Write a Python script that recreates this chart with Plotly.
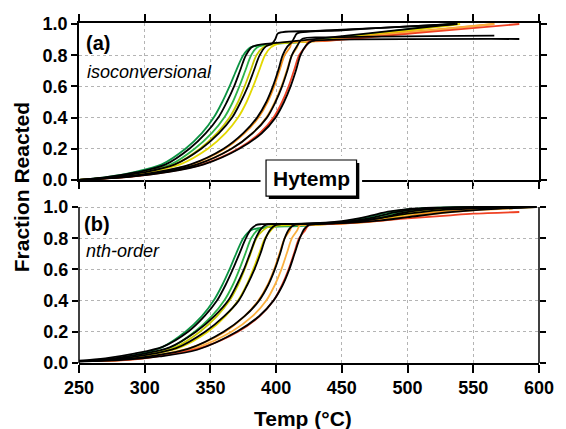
import plotly.graph_objects as go

# ---- experimental conversion curves (shared rising part) ----
RISE_ALPHA = [0.0, 0.02, 0.05, 0.10, 0.20, 0.30, 0.40, 0.50, 0.60, 0.70, 0.80, 0.85]

rise_T = {
    "greenA":  [250, 272, 292, 313, 331, 343.5, 352.5, 359, 364.5, 369.5, 375, 380.5],
    "greenB":  [250, 276, 298, 320, 338, 351, 360.5, 367, 372, 376.5, 381, 385.5],
    "yellowA": [250, 278, 300, 323, 342, 355, 364.5, 371, 376, 380.5, 385, 390],
    "yellowB": [250, 280, 303, 327, 348, 361.5, 371, 377.5, 382.5, 387, 391.5, 396],
    "orangeA": [250, 284, 310, 336, 361, 376, 386.5, 393.5, 398.5, 402.5, 406.5, 410.5],
    "orangeB": [250, 286, 313, 340, 366, 382, 392.5, 399, 404, 408, 412, 416],
    "red":     [250, 288, 316, 344, 371, 387.5, 398, 404.5, 409.5, 413.5, 417.5, 422],
}

colors = {
    "greenA": "#0c9444", "greenB": "#2db34a", "yellowA": "#c9c900",
    "yellowB": "#e3d800", "orangeA": "#f7941d", "orangeB": "#fbb040",
    "red": "#ef4123",
}

# upper (second-stage) part of each experimental curve, panel (a)
tail_a = {
    "greenA":  ([395, 420, 470, 533], [0.870, 0.885, 0.935, 1.0]),
    "greenB":  ([397, 420, 470, 535], [0.872, 0.885, 0.932, 1.0]),
    "yellowA": ([400, 425, 475, 538], [0.875, 0.888, 0.935, 1.0]),
    "yellowB": ([403, 425, 475, 540], [0.877, 0.887, 0.932, 1.0]),
    "orangeA": ([412, 430, 490, 566], [0.880, 0.890, 0.940, 1.0]),
    "orangeB": ([417, 435, 490, 566], [0.882, 0.890, 0.935, 1.0]),
    "red":     ([425, 440, 510, 585], [0.887, 0.893, 0.945, 1.0]),
}

# upper part of each experimental curve, panel (b)
tail_b = {
    "greenA":  ([390, 420, 450, 470, 485, 500, 520, 560, 597],
                [0.868, 0.880, 0.905, 0.935, 0.965, 0.985, 0.995, 1.0, 1.0]),
    "greenB":  ([392, 420, 450, 475, 490, 505, 525, 560, 597],
                [0.870, 0.882, 0.900, 0.930, 0.960, 0.980, 0.993, 0.999, 1.0]),
    "yellowA": ([395, 425, 455, 480, 500, 520, 550, 597],
                [0.875, 0.885, 0.900, 0.930, 0.965, 0.985, 0.995, 1.0]),
    "yellowB": ([400, 425, 455, 480, 505, 530, 560, 597],
                [0.880, 0.887, 0.900, 0.925, 0.960, 0.982, 0.995, 1.0]),
    "orangeA": ([412, 430, 460, 490, 515, 540, 570, 597],
                [0.880, 0.888, 0.900, 0.930, 0.960, 0.980, 0.993, 1.0]),
    "orangeB": ([418, 435, 465, 495, 520, 550, 580],
                [0.882, 0.889, 0.900, 0.928, 0.955, 0.978, 0.990]),
    "red":     ([425, 440, 470, 500, 530, 550, 585],
                [0.885, 0.890, 0.905, 0.927, 0.945, 0.957, 0.968]),
}

# ---- isoconversional model curves, panel (a) ----
iso_fits = [
    ([250, 272, 294, 316, 334, 346.5, 356, 362.5, 368, 372.5, 377, 382, 392, 420, 470, 536],
     [0.0, 0.02, 0.05, 0.10, 0.20, 0.30, 0.40, 0.50, 0.60, 0.70, 0.80, 0.855, 0.872, 0.895, 0.94, 1.0]),
    ([250, 276, 300, 323, 343, 356.5, 366.5, 373, 378.5, 383, 387.5, 392, 397, 399.5, 401.5, 430, 480, 536],
     [0.0, 0.02, 0.05, 0.10, 0.20, 0.30, 0.40, 0.50, 0.60, 0.70, 0.80, 0.855, 0.875, 0.905, 0.94, 0.955, 0.975, 1.0]),
    ([250, 283, 309, 335, 360, 375, 385.5, 392.5, 397.5, 401.5, 405, 408.5, 412, 414, 416, 450, 490, 538],
     [0.0, 0.02, 0.05, 0.10, 0.20, 0.30, 0.40, 0.50, 0.60, 0.70, 0.80, 0.855, 0.885, 0.915, 0.94, 0.96, 0.98, 1.0]),
    ([250, 286, 313, 340, 366, 382, 393, 399.5, 404.5, 408.5, 412, 416, 420, 440, 566],
     [0.0, 0.02, 0.05, 0.10, 0.20, 0.30, 0.40, 0.50, 0.60, 0.70, 0.80, 0.86, 0.905, 0.914, 0.925]),
    ([250, 288, 317, 345, 372, 389, 399.5, 406, 411, 415, 418.5, 422.5, 427, 440, 585],
     [0.0, 0.02, 0.05, 0.10, 0.20, 0.30, 0.40, 0.50, 0.60, 0.70, 0.80, 0.86, 0.89, 0.898, 0.904]),
]

# ---- nth-order model curves, panel (b) ----
nth_fits = [
    ([250, 270, 292, 314, 333, 345.5, 355, 361.5, 367, 372, 377, 381, 385, 389, 420, 450, 470, 485, 500, 520, 560, 598],
     [0.015, 0.03, 0.06, 0.105, 0.20, 0.30, 0.40, 0.50, 0.60, 0.70, 0.80, 0.86, 0.885, 0.89, 0.893, 0.91, 0.94, 0.97, 0.987, 0.996, 1.0, 1.0]),
    ([250, 273, 296, 319, 339, 353, 363.5, 370, 375.5, 380, 384.5, 388.5, 392, 396, 425, 455, 475, 490, 505, 525, 560, 598],
     [0.012, 0.027, 0.055, 0.10, 0.20, 0.30, 0.40, 0.50, 0.60, 0.70, 0.80, 0.86, 0.885, 0.89, 0.893, 0.908, 0.935, 0.965, 0.985, 0.995, 1.0, 1.0]),
    ([250, 276, 300, 324, 346, 360.5, 371.5, 378, 383.5, 388, 392, 396, 400, 404, 430, 460, 480, 495, 510, 530, 565, 598],
     [0.010, 0.024, 0.05, 0.095, 0.20, 0.30, 0.40, 0.50, 0.60, 0.70, 0.80, 0.86, 0.885, 0.89, 0.893, 0.905, 0.93, 0.96, 0.98, 0.993, 1.0, 1.0]),
    ([250, 280, 306, 333, 360, 376, 387, 394, 399, 403, 406.5, 410, 414, 418, 450, 475, 500, 525, 550, 598],
     [0.010, 0.022, 0.045, 0.09, 0.20, 0.30, 0.40, 0.50, 0.60, 0.70, 0.80, 0.86, 0.885, 0.89, 0.90, 0.925, 0.957, 0.98, 0.99, 1.0]),
    ([250, 283, 311, 340, 370, 387, 398, 405, 410, 414, 418, 421.5, 425, 430, 450, 480, 500, 530, 560, 598],
     [0.010, 0.02, 0.042, 0.085, 0.20, 0.30, 0.40, 0.50, 0.60, 0.70, 0.80, 0.86, 0.885, 0.89, 0.897, 0.915, 0.935, 0.965, 0.985, 1.0]),
]

x_ticks = [250, 300, 350, 400, 450, 500, 550, 600]
y_ticks = [0.0, 0.2, 0.4, 0.6, 0.8, 1.0]

FONT = "Liberation Sans, Arial, sans-serif"

fig = go.Figure()


def add_line(x, y, color, xa, ya, width=1.8):
    fig.add_trace(go.Scatter(
        x=x, y=y, mode="lines", xaxis=xa, yaxis=ya,
        line=dict(color=color, width=width, shape="spline", smoothing=0.9),
        showlegend=False, hoverinfo="skip"))


# panel (a): data then isoconversional fits
for name, T in rise_T.items():
    tx, ty = tail_a[name]
    add_line(T + tx, RISE_ALPHA + ty, colors[name], "x", "y")
for x, y in iso_fits:
    add_line(x, y, "black", "x", "y")

# panel (b): data then nth-order fits
for name, T in rise_T.items():
    tx, ty = tail_b[name]
    alpha = list(RISE_ALPHA)
    alpha[0] = 0.012
    add_line(T + tx, alpha + ty, colors[name], "x2", "y2")
for x, y in nth_fits:
    add_line(x, y, "black", "x2", "y2")

grid = dict(showgrid=True, gridcolor="#b4b4b4", gridwidth=1, griddash="dot",
            zeroline=False)
tickfont = dict(family=FONT, size=18, color="black", weight="bold")

top_dom = [0.5382, 1.0]
bot_dom = [0.0, 0.5382]

fig.update_layout(
    width=566, height=429,
    margin=dict(l=79, r=13, t=23, b=66),
    paper_bgcolor="white", plot_bgcolor="white",
    xaxis=dict(domain=[0, 1], range=[250, 600], anchor="y", tickvals=x_ticks,
               showticklabels=False, showline=True, linecolor="black",
               linewidth=1.5, mirror="ticks", ticks="outside", ticklen=7,
               tickwidth=1.5, tickcolor="black", **grid),
    yaxis=dict(domain=top_dom, range=[0, 1.0064], anchor="x", tickvals=y_ticks,
               tickformat=".1f", tickfont=tickfont, showline=True,
               linecolor="black", linewidth=1.5, mirror="ticks",
               ticks="outside", ticklen=6, tickwidth=1.5, tickcolor="black",
               **grid),
    xaxis2=dict(domain=[0, 1], range=[250, 600], anchor="y2",
                tickvals=x_ticks, tickfont=tickfont, showline=True,
                linecolor="black", linewidth=1.5, ticks="outside", ticklen=8,
                tickwidth=1.5, tickcolor="black", **grid),
    yaxis2=dict(domain=bot_dom, range=[0, 1.1731], anchor="x2",
                tickvals=y_ticks, tickformat=".1f", tickfont=tickfont,
                showline=False, mirror="ticks", ticks="outside", ticklen=6,
                tickwidth=1.5, tickcolor="black", **grid),
)

# left and right frame lines of panel (b), spanning 0..1 only
for xp in (0, 1):
    fig.add_shape(type="line", xref="paper", yref="y2", x0=xp, x1=xp,
                  y0=0, y1=1.0, line=dict(color="black", width=1.5))

# "Hytemp" label box with drop shadow, breaking the axis line
bx0, bx1, by0, by1 = 0.4066, 0.6034, 0.491, 0.597
fig.add_shape(type="rect", xref="paper", yref="paper", layer="above",
              x0=bx0 - 0.012, x1=bx1 + 0.012, y0=by0 - 0.012, y1=by1 + 0.012,
              fillcolor="white", line=dict(width=0))
fig.add_shape(type="rect", xref="paper", yref="paper", layer="above",
              x0=bx0 + 0.006, x1=bx1 + 0.006, y0=by0 - 0.009, y1=by1 - 0.009,
              fillcolor="black", line=dict(width=0))
fig.add_shape(type="rect", xref="paper", yref="paper", layer="above",
              x0=bx0, x1=bx1, y0=by0, y1=by1,
              fillcolor="white", line=dict(color="black", width=1.2))

ann = [
    dict(text="Hytemp", x=(bx0 + bx1) / 2, y=(by0 + by1) / 2,
         font=dict(size=21, weight="bold")),
    dict(text="(a)", x=0.010, y=0.941, xanchor="left",
         font=dict(size=20, weight="bold")),
    dict(text="isoconversional", x=0.014, y=0.856, xanchor="left",
         font=dict(size=18, style="italic")),
    dict(text="(b)", x=0.006, y=0.409, xanchor="left",
         font=dict(size=20, weight="bold")),
    dict(text="nth-order", x=0.010, y=0.329, xanchor="left",
         font=dict(size=18, style="italic")),
    dict(text="Fraction Reacted", x=-0.1245, y=0.516, textangle=-90,
         font=dict(size=21, weight="bold")),
    dict(text="Temp (°C)", x=0.487, y=-0.162,
         font=dict(size=21, weight="bold")),
]
for a in ann:
    a.setdefault("xanchor", "center")
    a.update(xref="paper", yref="paper", yanchor="middle", showarrow=False)
    a["font"] = dict(family=FONT, color="black", **a["font"])
    fig.add_annotation(**a)

fig.write_html("out.html")
